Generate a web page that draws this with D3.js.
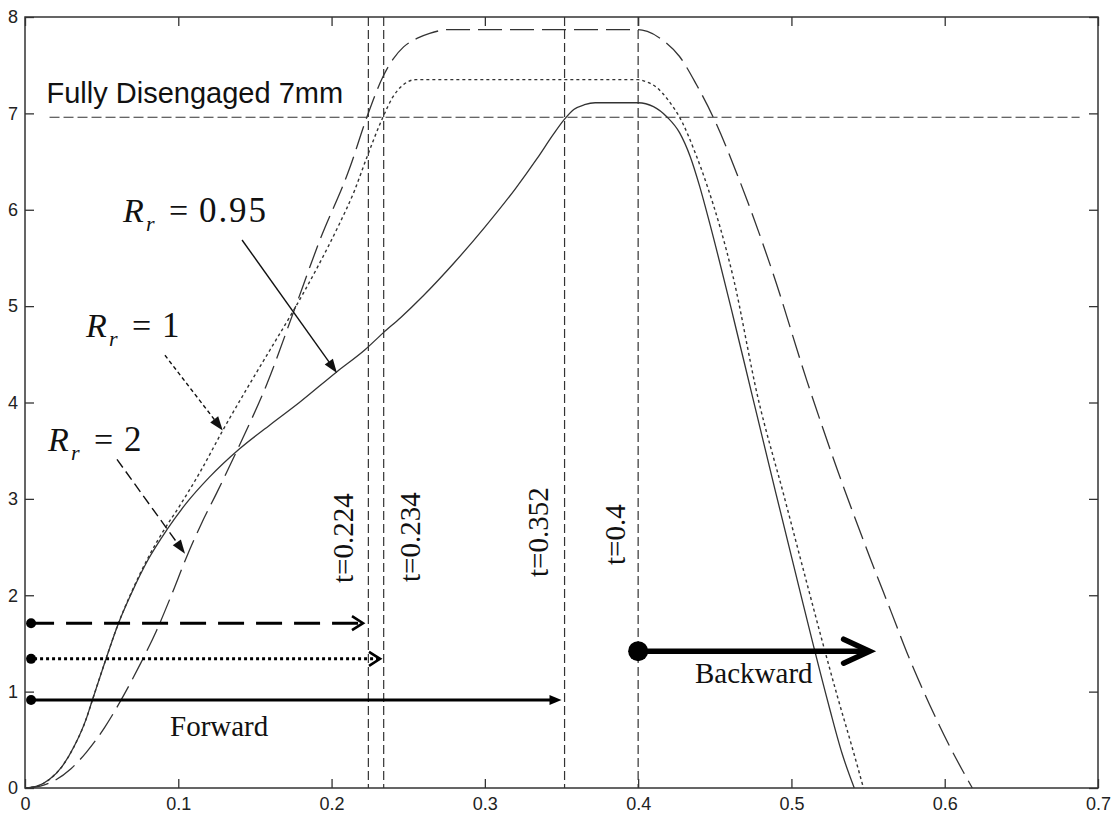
<!DOCTYPE html>
<html>
<head>
<meta charset="utf-8">
<script src="https://cdn.jsdelivr.net/npm/d3@7"></script>
<style>
  html, body { margin: 0; padding: 0; background: #fff; }
  svg { display: block; }
</style>
</head>
<body>
<svg id="chart" width="1112" height="814"></svg>
<script>
// Axis ticks
const xTicks = [0, 0.1, 0.2, 0.3, 0.4, 0.5, 0.6, 0.7];
const xTickLabels = ["0", "0.1", "0.2", "0.3", "0.4", "0.5", "0.6", "0.7"];
const yTicks = [0, 1, 2, 3, 4, 5, 6, 7, 8];
const yTickLabels = ["0", "1", "2", "3", "4", "5", "6", "7", "8"];

// Displacement vs time for three release ratios [t, mm]
const curveRr095 = [[0,0],[0.008,0.02],[0.016,0.09],[0.024,0.22],[0.032,0.43],[0.04,0.72],[0.0437,0.9],[0.052,1.3],[0.061,1.71],[0.07,2.04],[0.08,2.36],[0.0926,2.68],[0.105,2.95],[0.12,3.22],[0.14,3.52],[0.16,3.77],[0.179,4.0],[0.2035,4.32],[0.222,4.55],[0.2335,4.72],[0.245,4.88],[0.26,5.11],[0.28,5.45],[0.30,5.82],[0.32,6.22],[0.334,6.53],[0.345,6.79],[0.352,6.94],[0.358,7.04],[0.365,7.09],[0.372,7.11],[0.40,7.11],[0.41,7.07],[0.419,6.96],[0.427,6.8],[0.434,6.55],[0.44,6.25],[0.447,5.84],[0.462,4.89],[0.474,4.1],[0.49,3.05],[0.505,2.08],[0.514,1.5],[0.525,0.82],[0.533,0.36],[0.541,0]];
const curveRr1 = [[0,0],[0.008,0.02],[0.016,0.09],[0.024,0.22],[0.032,0.43],[0.04,0.72],[0.0437,0.9],[0.052,1.3],[0.061,1.71],[0.07,2.05],[0.08,2.38],[0.09,2.66],[0.101,2.93],[0.115,3.3],[0.129,3.71],[0.145,4.15],[0.16,4.55],[0.175,4.95],[0.19,5.38],[0.205,5.85],[0.215,6.2],[0.222,6.5],[0.2335,6.96],[0.24,7.17],[0.247,7.3],[0.255,7.35],[0.40,7.35],[0.405,7.33],[0.412,7.27],[0.419,7.15],[0.429,6.9],[0.437,6.6],[0.445,6.25],[0.462,5.3],[0.478,4.06],[0.495,3.04],[0.51,2.13],[0.52,1.53],[0.53,0.95],[0.54,0.4],[0.547,0]];
const curveRr2 = [[0,0],[0.01,0.02],[0.0196,0.08],[0.03,0.2],[0.04,0.37],[0.052,0.63],[0.064,0.95],[0.075,1.28],[0.086,1.64],[0.096,2.02],[0.1055,2.4],[0.115,2.74],[0.125,3.06],[0.14,3.56],[0.158,4.2],[0.175,4.93],[0.192,5.67],[0.212,6.44],[0.223,6.96],[0.2335,7.38],[0.24,7.56],[0.247,7.69],[0.256,7.78],[0.264,7.83],[0.277,7.87],[0.40,7.87],[0.406,7.85],[0.416,7.76],[0.427,7.59],[0.438,7.3],[0.449,6.96],[0.466,6.31],[0.488,5.34],[0.51,4.23],[0.53,3.3],[0.551,2.4],[0.565,1.83],[0.576,1.38],[0.59,0.87],[0.603,0.44],[0.611,0.2],[0.618,0]];

// Reference levels and event times
const disengagedLevel = 6.96;
const disengagedSpan = [0.016, 0.688];
const eventTimes = [0.224, 0.234, 0.352, 0.4];
const eventLabels = ["t=0.224", "t=0.234", "t=0.352", "t=0.4"];

// Forward strokes: level, end time (Rr=2, Rr=1, Rr=0.95)
const forwardLevels = [1.71, 1.34, 0.913];
const forwardEnds = [0.2205, 0.2316, 0.350];
const forwardStart = 0.002;
// Backward stroke
const backwardLevel = 1.42;
const backwardSpan = [0.4, 0.551];

// Curve labels: value and pointer arrow [from, to] in data units
const ratioValues = ["0.95", "1", "2"];
const ratioArrowFrom = [[0.1416, 5.686], [0.0913, 4.49], [0.0600, 3.41]];
const ratioArrowTo = [[0.2035, 4.306], [0.129, 3.71], [0.1044, 2.43]];

const svg = d3.select("#chart");
const plotL = 25, plotR = 1098, plotT = 17, plotB = 788;
const x = d3.scaleLinear().domain([0, 0.7]).range([plotL, plotR]);
const y = d3.scaleLinear().domain([0, 8]).range([plotB, plotT]);

const SANS = "'Liberation Sans', Arial, Helvetica, sans-serif";
const SERIF = "'Liberation Serif', 'Times New Roman', Times, serif";
const ink = "#222";

// Axes with inward ticks on all four sides
const gx = svg.append("g").attr("transform", `translate(0,${plotB})`)
  .call(d3.axisBottom(x).tickValues(xTicks).tickFormat((d, i) => xTickLabels[i]).tickSize(-9).tickPadding(9));
const gy = svg.append("g").attr("transform", `translate(${plotL},0)`)
  .call(d3.axisLeft(y).tickValues(yTicks).tickFormat((d, i) => yTickLabels[i]).tickSize(-9).tickPadding(7));
const gt = svg.append("g").attr("transform", `translate(0,${plotT})`)
  .call(d3.axisTop(x).tickValues(xTicks).tickFormat("").tickSize(-9));
const gr = svg.append("g").attr("transform", `translate(${plotR},0)`)
  .call(d3.axisRight(y).tickValues(yTicks).tickFormat("").tickSize(-9));
[gx, gy, gt, gr].forEach(g => {
  g.select(".domain").remove();
  g.selectAll(".tick line").attr("stroke", "#333").attr("stroke-width", 1.3);
  g.selectAll(".tick text").attr("font-family", SANS).attr("font-size", 18).attr("fill", ink);
});
svg.append("rect").attr("x", plotL).attr("y", plotT)
  .attr("width", plotR - plotL).attr("height", plotB - plotT)
  .attr("fill", "none").attr("stroke", "#333").attr("stroke-width", 1.5);

// Fully disengaged reference line
svg.append("line")
  .attr("x1", x(disengagedSpan[0])).attr("x2", x(disengagedSpan[1]))
  .attr("y1", y(disengagedLevel)).attr("y2", y(disengagedLevel))
  .attr("stroke", "#333").attr("stroke-width", 1.2).attr("stroke-dasharray", "10,4");
svg.append("text")
  .attr("x", x(disengagedSpan[0]) - 3).attr("y", y(disengagedLevel) - 14)
  .attr("font-family", SANS).attr("font-size", 29).attr("fill", "#111")
  .text("Fully Disengaged 7mm");

// Event time markers
const eventDx = [-15, 36, -17, -13];
const eventBase = [583, 582, 577, 565];
eventTimes.forEach((t, i) => {
  svg.append("line")
    .attr("x1", x(t)).attr("x2", x(t)).attr("y1", y(8)).attr("y2", y(0))
    .attr("stroke", "#333").attr("stroke-width", 1.2).attr("stroke-dasharray", "9,4");
  svg.append("text")
    .attr("transform", `translate(${x(t) + eventDx[i]},${eventBase[i]}) rotate(-90)`)
    .attr("font-family", SERIF).attr("font-size", 29).attr("fill", "#111")
    .text(eventLabels[i]);
});

// Curves
const line = d3.line().x(d => x(d[0])).y(d => y(d[1])).curve(d3.curveMonotoneX);
svg.append("path").datum(curveRr2).attr("d", line)
  .attr("fill", "none").attr("stroke", "#333").attr("stroke-width", 1.3).attr("stroke-dasharray", "24,8");
svg.append("path").datum(curveRr1).attr("d", line)
  .attr("fill", "none").attr("stroke", "#333").attr("stroke-width", 1.4).attr("stroke-dasharray", "3,3");
svg.append("path").datum(curveRr095).attr("d", line)
  .attr("fill", "none").attr("stroke", "#333").attr("stroke-width", 1.3);

// Arrowhead helpers
function filledHead(x1, y1, x2, y2, len, half) {
  const dx = x2 - x1, dy = y2 - y1, L = Math.hypot(dx, dy);
  const ux = dx / L, uy = dy / L, px = -uy, py = ux;
  const bx = x2 - ux * len, by = y2 - uy * len;
  return `M${x2},${y2}L${bx + px * half},${by + py * half}L${bx - px * half},${by - py * half}Z`;
}
function chevron(tx, ty, len, half) {
  return `M${tx - len},${ty - half}L${tx},${ty}L${tx - len},${ty + half}`;
}

// Curve labels with pointer arrows
const ratioDash = [null, "4,3", "10,5"];
const ratioPos = [[123, 222], [86, 337], [48, 451]];
const ratioWidth = [67, null, null];
ratioValues.forEach((v, i) => {
  const [fx, fy] = ratioArrowFrom[i], [tx, ty] = ratioArrowTo[i];
  const x1 = x(fx), y1 = y(fy), x2 = x(tx), y2 = y(ty);
  const L = Math.hypot(x2 - x1, y2 - y1);
  const shorten = 10;
  svg.append("line")
    .attr("x1", x1).attr("y1", y1)
    .attr("x2", x2 - (x2 - x1) / L * shorten).attr("y2", y2 - (y2 - y1) / L * shorten)
    .attr("stroke", "#111").attr("stroke-width", 1.4)
    .attr("stroke-dasharray", ratioDash[i]);
  svg.append("path").attr("d", filledHead(x1, y1, x2, y2, 14, 5)).attr("fill", "#111");

  const [lx, ly] = ratioPos[i];
  const t = svg.append("text").attr("font-family", SERIF).attr("fill", "#111");
  t.append("tspan").attr("x", lx).attr("y", ly).attr("font-size", 34).attr("font-style", "italic").text("R");
  t.append("tspan").attr("x", lx + 23).attr("y", ly + 9).attr("font-size", 22).attr("font-style", "italic").text("r");
  t.append("tspan").attr("x", lx + 46).attr("y", ly).attr("font-size", 34).text("=");
  const num = t.append("tspan").attr("x", lx + 76).attr("y", ly).attr("font-size", 35).text(v);
  if (ratioWidth[i]) num.attr("textLength", ratioWidth[i]).attr("lengthAdjust", "spacing");
});

// Forward strokes
const fwdDash = ["26,12", "3,3", null];
forwardLevels.forEach((lv, i) => {
  const yy = y(lv), xs = x(forwardStart), xe = x(forwardEnds[i]);
  svg.append("line").attr("x1", xs).attr("x2", i === 2 ? xe - 8 : xe - 2).attr("y1", yy).attr("y2", yy)
    .attr("stroke", "#000").attr("stroke-width", 3).attr("stroke-dasharray", fwdDash[i]);
  svg.append("circle").attr("cx", xs + 3).attr("cy", yy).attr("r", 5).attr("fill", "#000");
  if (i === 2) {
    svg.append("path").attr("d", filledHead(xs, yy, xe, yy, 12, 5)).attr("fill", "#000");
  } else {
    svg.append("path").attr("d", chevron(xe, yy, 11, 7))
      .attr("fill", "none").attr("stroke", "#000").attr("stroke-width", 2.6);
  }
});
svg.append("text").attr("x", 170).attr("y", 736)
  .attr("font-family", SERIF).attr("font-size", 29).attr("fill", "#111").text("Forward");

// Backward stroke
const by0 = y(backwardLevel), bx0 = x(backwardSpan[0]), bx1 = x(backwardSpan[1]);
svg.append("line").attr("x1", bx0).attr("x2", bx1 - 3).attr("y1", by0).attr("y2", by0)
  .attr("stroke", "#000").attr("stroke-width", 5.5);
svg.append("path").attr("d", chevron(bx1, by0, 26, 12))
  .attr("fill", "none").attr("stroke", "#000").attr("stroke-width", 5.5)
  .attr("stroke-linecap", "round").attr("stroke-linejoin", "miter");
svg.append("circle").attr("cx", bx0).attr("cy", by0).attr("r", 10).attr("fill", "#000");
svg.append("text").attr("x", 695).attr("y", 683)
  .attr("font-family", SERIF).attr("font-size", 29).attr("fill", "#111").text("Backward");
</script>
</body>
</html>
